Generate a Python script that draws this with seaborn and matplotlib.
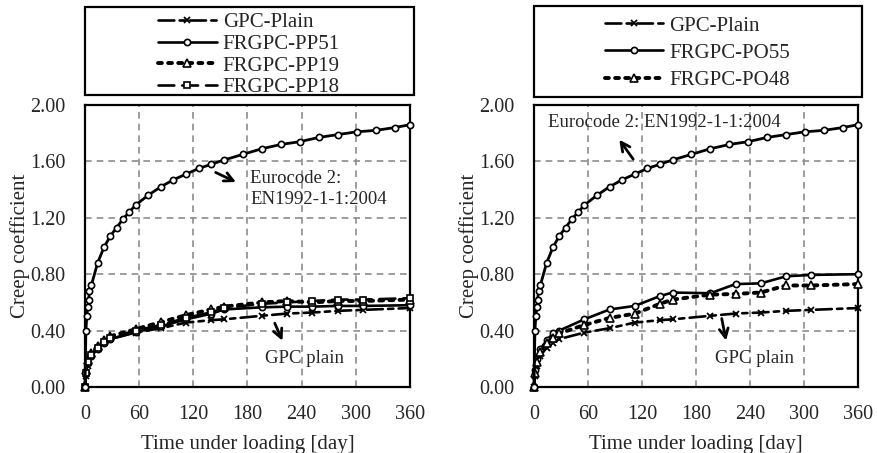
import numpy as np
import pandas as pd
import seaborn as sns
import matplotlib.pyplot as plt
from matplotlib.patches import Rectangle
from matplotlib.ticker import MultipleLocator

# Eurocode 2 prediction (same curve in both panels)
ec_days = [0, 1, 2, 3, 4, 5, 7, 14, 21, 28, 35, 42, 49, 56, 70, 84, 98, 112, 126,
           140, 154, 175, 196, 217, 238, 259, 280, 301, 322, 343, 360]
ec_vals = [0.0, 0.40, 0.50, 0.57, 0.62, 0.68, 0.72, 0.88, 0.99, 1.07, 1.13, 1.19, 1.24,
           1.29, 1.36, 1.42, 1.47, 1.51, 1.55, 1.58, 1.61, 1.65, 1.69, 1.72, 1.74,
           1.77, 1.79, 1.81, 1.82, 1.84, 1.86]

# measured series
days = [0, 1, 3, 7, 14, 21, 28, 56, 84, 112, 140, 154, 196, 224, 252, 280, 308, 360]
gpc_plain = [0, 0.08, 0.15, 0.22, 0.28, 0.31, 0.34, 0.386, 0.417, 0.457, 0.474, 0.48,
             0.505, 0.521, 0.528, 0.54, 0.547, 0.56]
pp51 = [0, 0.10, 0.17, 0.22, 0.27, 0.31, 0.34, 0.39, 0.43, 0.48, 0.52, 0.55, 0.565,
        0.57, 0.57, 0.575, 0.575, 0.58]
pp19 = [0, 0.12, 0.19, 0.24, 0.29, 0.33, 0.36, 0.41, 0.46, 0.51, 0.55, 0.57, 0.60,
        0.61, 0.60, 0.61, 0.61, 0.62]
pp18 = [0, 0.10, 0.18, 0.23, 0.28, 0.32, 0.35, 0.40, 0.44, 0.49, 0.53, 0.56, 0.59,
        0.60, 0.61, 0.62, 0.62, 0.63]
po55 = [0, 0.12, 0.20, 0.27, 0.33, 0.38, 0.40, 0.48, 0.55, 0.575, 0.645, 0.67, 0.665,
        0.73, 0.735, 0.785, 0.795, 0.80]
po48 = [0, 0.10, 0.18, 0.25, 0.31, 0.35, 0.38, 0.44, 0.49, 0.52, 0.59, 0.62, 0.655,
        0.66, 0.67, 0.72, 0.72, 0.73]

sns.set_style("white")
plt.rcParams['font.family'] = ['Liberation Serif', 'DejaVu Serif']

styles = {
    'GPC-Plain': dict(ls=(0, (6, 2, 2, 2)), marker='x', ms=5, mew=1.3, lw=1.9),
    'FRGPC-PP51': dict(ls='-', marker='o', ms=4.5, mfc='white', mew=1.2, lw=1.9),
    'FRGPC-PP19': dict(ls=(0, (1, 1.6)), marker='^', ms=5.5, mfc='white', mew=1.2, lw=2.8),
    'FRGPC-PP18': dict(ls=(0, (6, 3)), marker='s', ms=4, mfc='white', mew=1.2, lw=1.9),
    'FRGPC-PO55': dict(ls='-', marker='o', ms=4.5, mfc='white', mew=1.2, lw=1.9),
    'FRGPC-PO48': dict(ls=(0, (1, 1.6)), marker='^', ms=5.5, mfc='white', mew=1.2, lw=2.8),
}

panels = [
    [('GPC-Plain', gpc_plain), ('FRGPC-PP51', pp51), ('FRGPC-PP19', pp19), ('FRGPC-PP18', pp18)],
    [('GPC-Plain', gpc_plain), ('FRGPC-PO55', po55), ('FRGPC-PO48', po48)],
]

fig = plt.figure(figsize=(8.77, 4.53), dpi=100)
axes = [fig.add_axes([0.0969, 0.1457, 0.3706, 0.6225]),
        fig.add_axes([0.6089, 0.1457, 0.3694, 0.6225])]

for i, (ax, series) in enumerate(zip(axes, panels)):
    sns.lineplot(x=ec_days, y=ec_vals, ax=ax, color='black', lw=2, marker='o', ms=4.5,
                 mfc='white', mec='black', mew=1.2, clip_on=False, zorder=4)
    handles = []
    for name, vals in series:
        st = styles[name]
        sns.lineplot(x=days, y=vals, ax=ax, color='black', mec='black',
                     dash_capstyle='round', clip_on=False, zorder=3, **st)
        handles.append(ax.lines[-1])

    ax.set_xlim(0, 360)
    ax.set_ylim(0, 2)
    ax.xaxis.set_major_locator(MultipleLocator(60))
    ax.xaxis.set_minor_locator(MultipleLocator(30))
    ax.yaxis.set_major_locator(MultipleLocator(0.4))
    ax.yaxis.set_minor_locator(MultipleLocator(0.1))
    ax.yaxis.set_major_formatter(plt.FormatStrFormatter('%.2f'))
    ax.grid(True, which='major', color='#8c8c8c', ls=(0, (4, 3)), lw=1.2)
    ax.tick_params(which='major', direction='inout', length=8, width=1.3,
                   labelsize=14.5, color='black')
    ax.tick_params(axis='x', which='major', pad=9)
    ax.tick_params(axis='y', which='major', pad=10)
    ax.tick_params(which='minor', direction='in', length=4, width=1.2, color='black')
    for sp in ax.spines.values():
        sp.set_linewidth(1.6)
        sp.set_color('black')
    ax.set_xlabel('Time under loading [day]', fontsize=15, labelpad=8)
    ax.set_ylabel('Creep coefficient', fontsize=15, labelpad=0)

    if i == 0:
        box_y0, box_h, spacing, shift = 1.035, 0.313, 0.1, 0.014
    else:
        box_y0, box_h, spacing, shift = 1.028, 0.323, 0.36, 0.005
    ax.add_patch(Rectangle((0, box_y0), 1.012, box_h, transform=ax.transAxes,
                           fill=False, ec='black', lw=1.6, clip_on=False))
    ax.legend(handles=handles, labels=[n for n, _ in series], loc='center',
              bbox_to_anchor=(0.505, box_y0 + box_h / 2 - shift), frameon=False,
              fontsize=15, handlelength=2.8, handletextpad=0.3,
              labelspacing=spacing, borderpad=0)

    arrow = dict(arrowstyle='->', color='black', lw=2, mutation_scale=16)
    if i == 0:
        ax.annotate('', xy=(170, 1.445), xytext=(142, 1.53), arrowprops=arrow)
        ax.text(183, 1.405, 'Eurocode 2:\nEN1992-1-1:2004', fontsize=13.5,
                ha='left', va='center', linespacing=1.3)
        ax.annotate('', xy=(220, 0.31), xytext=(209, 0.47), arrowprops=arrow)
        ax.text(243, 0.205, 'GPC plain', fontsize=13.5, ha='center', va='center')
    else:
        ax.annotate('', xy=(93, 1.77), xytext=(112, 1.60), arrowprops=arrow)
        ax.text(15, 1.875, 'Eurocode 2: EN1992-1-1:2004', fontsize=13.5,
                ha='left', va='center')
        ax.annotate('', xy=(214, 0.31), xytext=(208, 0.505), arrowprops=arrow)
        ax.text(245, 0.20, 'GPC plain', fontsize=13.5, ha='center', va='center')

fig.savefig('out.png', dpi=100)
